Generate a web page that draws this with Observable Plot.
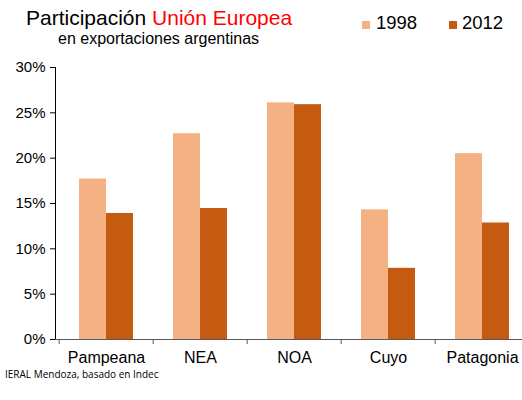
<!DOCTYPE html>
<html>
<head>
<meta charset="utf-8">
<script src="https://cdn.jsdelivr.net/npm/d3@7"></script>
<script src="https://cdn.jsdelivr.net/npm/@observablehq/plot@0.6"></script>
<style>
  html, body { margin: 0; padding: 0; background: #fff; }
  #wrap { position: relative; width: 522px; height: 400px; font-family: "Liberation Sans", Arial, sans-serif; color: #000; overflow: hidden; }
  #wrap svg { position: absolute; left: 0; top: 0; }
  .abs { position: absolute; line-height: 1; white-space: nowrap; }
  .sw { position: absolute; width: 8px; height: 8px; }
</style>
</head>
<body>
<div id="wrap">
  <div id="chart"></div>
  <div class="abs" style="left:26px; top:7px; font-size:21px;">Participación <span style="color:#ff0000">Unión Europea</span></div>
  <div class="abs" style="left:58px; top:31px; font-size:16px;">en exportaciones argentinas</div>
  <div class="sw" style="left:362px; top:21px; background:#F4B183;"></div>
  <div class="abs" style="left:376px; top:14px; font-size:18.5px;">1998</div>
  <div class="sw" style="left:449px; top:21px; background:#C55A11;"></div>
  <div class="abs" style="left:462px; top:14px; font-size:18.5px;">2012</div>
  <div class="abs" style="left:5px; top:369px; font-size:10px; font-family:'Open Sans', sans-serif;">IERAL Mendoza, basado en Indec</div>
</div>
<script>
const regions = ["Pampeana", "NEA", "NOA", "Cuyo", "Patagonia"];
const values1998 = [17.7, 22.7, 26.1, 14.3, 20.5];
const values2012 = [13.9, 14.45, 25.9, 7.85, 12.85];
const yTicks = [0, 5, 10, 15, 20, 25, 30];
const colors = {"1998": "#F4B183", "2012": "#C55A11"};

const d1998 = regions.map((r, i) => ({region: r, value: values1998[i]}));
const d2012 = regions.map((r, i) => ({region: r, value: values2012[i]}));

const plot = Plot.plot({
  width: 522,
  height: 400,
  marginLeft: 55,
  marginRight: 0,
  marginTop: 67,
  marginBottom: 61,
  style: {fontFamily: "'Liberation Sans', Arial, sans-serif", color: "#000", background: "transparent"},
  x: {domain: regions, range: [57, 530], padding: 0, axis: null},
  y: {domain: [0, 30], axis: null},
  marks: [
    Plot.barY(d1998, {x: "region", y: "value", fill: colors["1998"], insetLeft: 20, insetRight: 47}),
    Plot.barY(d2012, {x: "region", y: "value", fill: colors["2012"], insetLeft: 47, insetRight: 20}),
    Plot.frame({anchor: "left", stroke: "#000"}),
    Plot.ruleY([0], {stroke: "#595959"}),
    Plot.axisY({ticks: yTicks, tickFormat: d => d + "%", tickSize: 5, tickPadding: 5, fontSize: 15, label: null}),
    Plot.axisX({tickSize: 0, tickPadding: 12, fontSize: 16, label: null}),
    Plot.axisX({tickSize: 5, tickFormat: () => "", dx: -47.3, stroke: "#595959", label: null})
  ]
});
document.getElementById("chart").appendChild(plot);
</script>
</body>
</html>
